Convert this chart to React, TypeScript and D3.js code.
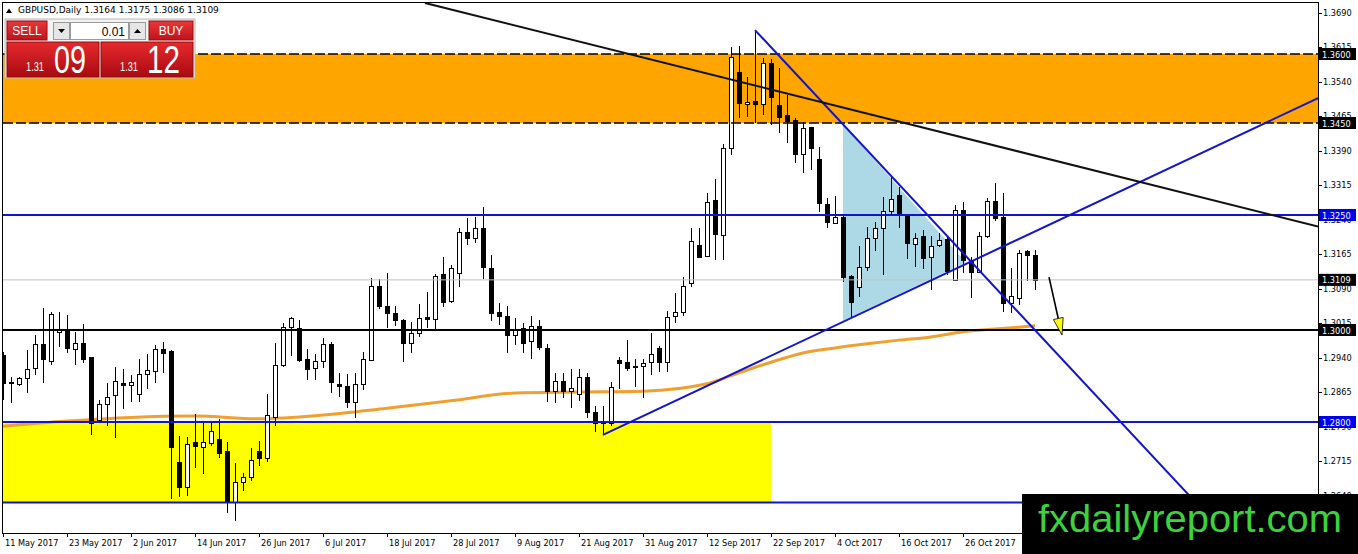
import * as d3 from 'd3';
import { FC } from 'react';

// GBPUSD daily, 11 May 2017 .. 8 Nov 2017 (bar index 0..129)
const opens = [
  1.2945, 1.2885, 1.2883, 1.2896, 1.2918, 1.2969, 1.2932, 1.2995, 1.3000, 1.2958,
  1.2971, 1.2941, 1.2804, 1.2839, 1.2858, 1.2885, 1.2880, 1.2861, 1.2904, 1.2911,
  1.2958, 1.2954, 1.2713, 1.2659, 1.2756, 1.2746, 1.2754, 1.2763, 1.2737, 1.2626,
  1.2669, 1.2680, 1.2737, 1.2721, 1.2810, 1.2923, 1.3006, 1.3004, 1.2938, 1.2918,
  1.2932, 1.2969, 1.2883, 1.2878, 1.2843, 1.2883, 1.2934, 1.3096, 1.3052, 1.3037,
  1.3022, 1.2971, 1.2993, 1.3028, 1.3024, 1.3121, 1.3063, 1.3124, 1.3212, 1.3201,
  1.3221, 1.3135, 1.3039, 1.3030, 1.2989, 1.3004, 1.2976, 1.3009, 1.2960, 1.2867,
  1.2889, 1.2867, 1.2861, 1.2898, 1.2821, 1.2800, 1.2798, 1.2934, 1.2930, 1.2921,
  1.2921, 1.2930, 1.2960, 1.2930, 1.3030, 1.3039, 1.3102, 1.3185, 1.3161, 1.3283,
  1.3206, 1.3395, 1.3561, 1.3492, 1.3498, 1.3492, 1.3581, 1.3490, 1.3468, 1.3457,
  1.3382, 1.3441, 1.3371, 1.3274, 1.3232, 1.3245, 1.3117, 1.3093, 1.3137, 1.3201,
  1.3221, 1.3258, 1.3293, 1.3247, 1.3187, 1.3204, 1.3159, 1.3185, 1.3198, 1.3108,
  1.3261, 1.3152, 1.3126, 1.3204, 1.3280, 1.3245, 1.3059, 1.3069, 1.3171, 1.3164,
];
const highs = [
  1.2952, 1.2898, 1.2898, 1.2956, 1.2989, 1.3048, 1.3039, 1.3039, 1.3033, 1.2995,
  1.3013, 1.2941, 1.2848, 1.2885, 1.2919, 1.2915, 1.2902, 1.2938, 1.2947, 1.2967,
  1.2974, 1.2956, 1.2770, 1.2767, 1.2817, 1.2798, 1.2803, 1.2806, 1.2757, 1.2711,
  1.2689, 1.2743, 1.2759, 1.2861, 1.2971, 1.3015, 1.3028, 1.3022, 1.2958, 1.2947,
  1.2982, 1.2974, 1.2907, 1.2904, 1.2907, 1.2952, 1.3113, 1.3111, 1.3124, 1.3052,
  1.3024, 1.3017, 1.3057, 1.3083, 1.3121, 1.3159, 1.3141, 1.3221, 1.3243, 1.3245,
  1.3267, 1.3163, 1.3059, 1.3052, 1.3026, 1.3015, 1.3030, 1.3022, 1.2969, 1.2907,
  1.2907, 1.2915, 1.2915, 1.2907, 1.2834, 1.2834, 1.2887, 1.2941, 1.2978, 1.2938,
  1.2938, 1.2993, 1.2965, 1.3041, 1.3081, 1.3115, 1.3221, 1.3221, 1.3298, 1.3329,
  1.3404, 1.3616, 1.3618, 1.3550, 1.3652, 1.3591, 1.3589, 1.3570, 1.3511, 1.3461,
  1.3452, 1.3441, 1.3398, 1.3287, 1.3291, 1.3250, 1.3119, 1.3183, 1.3223, 1.3234,
  1.3289, 1.3333, 1.3311, 1.3247, 1.3211, 1.3217, 1.3204, 1.3210, 1.3204, 1.3272,
  1.3278, 1.3159, 1.3212, 1.3287, 1.3320, 1.3298, 1.3135, 1.3174, 1.3175, 1.3175,
];
const lows = [
  1.2848, 1.2841, 1.2878, 1.2863, 1.2902, 1.2885, 1.2923, 1.2963, 1.2949, 1.2925,
  1.2928, 1.2772, 1.2800, 1.2792, 1.2765, 1.2828, 1.2843, 1.2843, 1.2872, 1.2885,
  1.2907, 1.2633, 1.2637, 1.2639, 1.2700, 1.2686, 1.2748, 1.2721, 1.2602, 1.2585,
  1.2650, 1.2671, 1.2704, 1.2713, 1.2792, 1.2919, 1.2943, 1.2930, 1.2891, 1.2891,
  1.2918, 1.2863, 1.2854, 1.2830, 1.2808, 1.2869, 1.2932, 1.3046, 1.3004, 1.3009,
  1.2930, 1.2949, 1.2984, 1.3004, 1.3002, 1.3050, 1.3059, 1.3093, 1.3185, 1.3189,
  1.3110, 1.3020, 1.3011, 1.2949, 1.2967, 1.2949, 1.2938, 1.2956, 1.2843, 1.2841,
  1.2852, 1.2830, 1.2845, 1.2808, 1.2778, 1.2772, 1.2792, 1.2872, 1.2910, 1.2876,
  1.2852, 1.2903, 1.2908, 1.2908, 1.3015, 1.3030, 1.3093, 1.3157, 1.3161, 1.3152,
  1.3152, 1.3380, 1.3461, 1.3463, 1.3450, 1.3468, 1.3446, 1.3428, 1.3406, 1.3363,
  1.3341, 1.3347, 1.3256, 1.3221, 1.3232, 1.3104, 1.3028, 1.3072, 1.3128, 1.3172,
  1.3119, 1.3247, 1.3221, 1.3154, 1.3137, 1.3132, 1.3086, 1.3181, 1.3119, 1.3106,
  1.3124, 1.3070, 1.3124, 1.3201, 1.3237, 1.3039, 1.3037, 1.3055, 1.3106, 1.3086,
];
const closes = [
  1.2885, 1.2887, 1.2896, 1.2915, 1.2969, 1.2938, 1.3035, 1.3000, 1.2960, 1.2971,
  1.2938, 1.2798, 1.2839, 1.2854, 1.2889, 1.2880, 1.2887, 1.2904, 1.2913, 1.2958,
  1.2949, 1.2746, 1.2659, 1.2752, 1.2748, 1.2757, 1.2781, 1.2732, 1.2626, 1.2669,
  1.2680, 1.2717, 1.2721, 1.2815, 1.2923, 1.3006, 1.3026, 1.2934, 1.2915, 1.2932,
  1.2969, 1.2887, 1.2878, 1.2843, 1.2883, 1.2936, 1.3096, 1.3052, 1.3037, 1.3022,
  1.2971, 1.2993, 1.3026, 1.3024, 1.3117, 1.3061, 1.3135, 1.3212, 1.3201, 1.3221,
  1.3137, 1.3037, 1.3030, 1.2989, 1.3000, 1.2971, 1.3009, 1.2963, 1.2867, 1.2889,
  1.2867, 1.2874, 1.2898, 1.2821, 1.2798, 1.2798, 1.2876, 1.2928, 1.2918, 1.2919,
  1.2928, 1.2947, 1.2930, 1.3028, 1.3039, 1.3096, 1.3194, 1.3159, 1.3278, 1.3208,
  1.3395, 1.3594, 1.3494, 1.3496, 1.3492, 1.3581, 1.3507, 1.3463, 1.3455, 1.3382,
  1.3439, 1.3395, 1.3276, 1.3234, 1.3245, 1.3115, 1.3061, 1.3137, 1.3200, 1.3221,
  1.3258, 1.3285, 1.3252, 1.3189, 1.3201, 1.3156, 1.3183, 1.3196, 1.3128, 1.3261,
  1.3152, 1.3126, 1.3204, 1.3280, 1.3243, 1.3059, 1.3073, 1.3167, 1.3164, 1.3109,
];

const dateBars = [0, 8, 16, 24, 32, 40, 48, 56, 64, 72, 80, 88, 96, 104, 112, 120];
const dateLabels = [
  '11 May 2017', '23 May 2017', '2 Jun 2017', '14 Jun 2017', '26 Jun 2017', '6 Jul 2017',
  '18 Jul 2017', '28 Jul 2017', '9 Aug 2017', '21 Aug 2017', '31 Aug 2017', '12 Sep 2017',
  '22 Sep 2017', '4 Oct 2017', '16 Oct 2017', '26 Oct 2017',
];

const priceTicks = [
  1.369, 1.3615, 1.354, 1.3465, 1.339, 1.3315, 1.324, 1.3165, 1.309, 1.3015,
  1.294, 1.2865, 1.279, 1.2715, 1.264,
];

// moving average read at a few bars
const maBars = [0, 8, 16, 24, 32, 40, 48, 56, 64, 72, 80, 88, 92, 96, 100, 104, 108, 112, 116, 120, 124, 129];
const maValues = [
  1.2791, 1.2802, 1.281, 1.2813, 1.2807, 1.2815, 1.283, 1.2846, 1.2863, 1.2865, 1.2867,
  1.2883, 1.2907, 1.293, 1.295, 1.2961, 1.297, 1.2978, 1.2985, 1.2996, 1.3002, 1.3009,
];

const resistanceZone = [1.345, 1.36];
const supportZone = [1.2625, 1.28];
const supportZoneEndBar = 96;
const blueLevels = [1.325, 1.28, 1.2625];
const pivotLevel = 1.3;
const bidPrice = 1.3109;
const blackTrend = [[52.75, 1.3711], [164.375, 1.3225]];
const blueDown = [[94, 1.3652], [155, 1.2515]];
const blueUp = [[75, 1.2772], [164.375, 1.3504]];
const triangle = [[105, 1.3446], [105, 1.302], [120.375, 1.3147]];
const arrow = [[130.75, 1.3115], [132.375, 1.2989]];
const axisMarks = [
  { price: 1.36, kind: 'black' },
  { price: 1.345, kind: 'black' },
  { price: 1.325, kind: 'blue' },
  { price: 1.3109, kind: 'black' },
  { price: 1.3, kind: 'black' },
  { price: 1.28, kind: 'blue' },
];

const W = 1358;
const H = 554;
const left = 3;
const right = 1318;
const top = 2;
const bottom = 533;
const font = "'DejaVu Sans', Tahoma, sans-serif";
const BLUE = '#1414c8';

const x = d3.scaleLinear().domain([0, 129]).range([3, 1035]);
const y = d3.scaleLinear().domain([1.28, 1.36]).range([422, 54]);
const fmt = d3.format('.4f');

const pts = (arr: number[][]) => arr.map(([b, p]) => [x(b), y(p)] as [number, number]);

const Panel: FC = () => (
  <g fontFamily="'Liberation Sans', Arial, sans-serif">
    <defs>
      <linearGradient id="redBtn" x1="0" y1="0" x2="0" y2="1">
        <stop offset="0" stopColor="#e8383c" />
        <stop offset="1" stopColor="#c0121a" />
      </linearGradient>
      <linearGradient id="redBig" x1="0" y1="0" x2="0" y2="1">
        <stop offset="0" stopColor="#e62a2e" />
        <stop offset="1" stopColor="#a80a10" />
      </linearGradient>
    </defs>
    <rect x={5} y={19} width={190} height={59} fill="#f2f2f2" stroke="#b8b8b8" />
    <rect x={7} y={21} width={40} height={19} fill="url(#redBtn)" stroke="#9a0c10" />
    <text x={27} y={35} fill="#fff" fontSize={12} textAnchor="middle">SELL</text>
    <rect x={53.5} y={22.5} width={16} height={17} fill="#e6e6e6" stroke="#9a9a9a" />
    <path d="M58,29 L65,29 L61.5,33 Z" fill="#000" />
    <rect x={70.5} y={22.5} width={58} height={17} fill="#fff" stroke="#9a9a9a" />
    <text x={125} y={36} fontSize={12} textAnchor="end" fill="#000">0.01</text>
    <rect x={129.5} y={22.5} width={16} height={17} fill="#e6e6e6" stroke="#9a9a9a" />
    <path d="M134,33 L141,33 L137.5,29 Z" fill="#000" />
    <rect x={149} y={21} width={44} height={19} fill="url(#redBtn)" stroke="#9a0c10" />
    <text x={171} y={35} fill="#fff" fontSize={12} textAnchor="middle">BUY</text>
    <line x1={7} x2={193} y1={41.5} y2={41.5} stroke="#fff" />
    <rect x={7} y={42} width={92} height={35} fill="url(#redBig)" stroke="#8c0a0e" />
    <rect x={101} y={42} width={92} height={35} fill="url(#redBig)" stroke="#8c0a0e" />
    <text x={26} y={71} fill="#fff" fontSize={13} textLength={18} lengthAdjust="spacingAndGlyphs">1.31</text>
    <text x={54} y={73} fill="#fff" fontSize={39} textLength={32} lengthAdjust="spacingAndGlyphs">09</text>
    <text x={120} y={71} fill="#fff" fontSize={13} textLength={18} lengthAdjust="spacingAndGlyphs">1.31</text>
    <text x={147} y={73} fill="#fff" fontSize={39} textLength={33} lengthAdjust="spacingAndGlyphs">12</text>
  </g>
);

const App: FC = () => {
  const ma = d3
    .line<number>()
    .x((_, i) => x(maBars[i]))
    .y((d) => y(d))
    .curve(d3.curveMonotoneX)(maValues) as string;

  const [tip0, tip1] = pts(arrow);
  const dx = tip1[0] - tip0[0];
  const dy = tip1[1] - tip0[1];
  const len = Math.hypot(dx, dy);
  const ux = dx / len;
  const uy = dy / len;
  const bx = tip1[0] - 17 * ux;
  const by = tip1[1] - 17 * uy;
  const head = `M${tip1[0]},${tip1[1]} L${bx - 5 * uy},${by + 5 * ux} L${bx + 5 * uy},${by - 5 * ux} Z`;

  const seg = (arr: number[][]) => {
    const [a, b] = pts(arr);
    return <line x1={a[0]} y1={a[1]} x2={b[0]} y2={b[1]} />;
  };

  return (
    <svg
      width={W}
      height={H}
      style={{ position: 'absolute', left: 0, top: 0, background: '#fff' }}
    >
      <defs>
        <clipPath id="plot">
          <rect x={left} y={top} width={right - left} height={bottom - top} />
        </clipPath>
      </defs>

      <g clipPath="url(#plot)">
        {/* zones */}
        <rect
          x={left}
          width={right - left}
          y={y(resistanceZone[1])}
          height={y(resistanceZone[0]) - y(resistanceZone[1])}
          fill="#ffa500"
        />
        <rect
          x={left}
          width={x(supportZoneEndBar) - left}
          y={y(supportZone[1])}
          height={y(supportZone[0]) - y(supportZone[1])}
          fill="#ffff00"
        />
        <polygon points={pts(triangle).map((p) => p.join(',')).join(' ')} fill="#add8e6" />

        <path d={ma} fill="none" stroke="#f0a030" strokeWidth={3} />

        {/* candles */}
        <g shapeRendering="crispEdges">
          {opens.map((o, i) => {
            const cx = x(i);
            const c = closes[i];
            const bull = c >= o;
            const yt = Math.round(y(Math.max(o, c)));
            const yb = Math.round(y(Math.min(o, c)));
            return (
              <g key={i}>
                <line x1={cx + 0.5} x2={cx + 0.5} y1={y(highs[i])} y2={y(lows[i])} stroke="#000" />
                <rect
                  x={cx - 1.5}
                  y={yt + 0.5}
                  width={4}
                  height={Math.max(yb - yt, 1)}
                  fill={bull ? '#fff' : '#000'}
                  stroke="#000"
                />
              </g>
            );
          })}
        </g>

        {/* levels */}
        <line x1={left} x2={right} y1={y(bidPrice)} y2={y(bidPrice)} stroke="#c0c0c0" />
        {resistanceZone.map((p) => (
          <line key={p} x1={left} x2={right} y1={y(p)} y2={y(p)} stroke="#000" strokeWidth={1.5} strokeDasharray="10,3" />
        ))}
        {blueLevels.map((p) => (
          <line key={p} x1={left} x2={right} y1={y(p)} y2={y(p)} stroke={BLUE} strokeWidth={2} />
        ))}
        <line x1={left} x2={right} y1={y(pivotLevel)} y2={y(pivotLevel)} stroke="#000" strokeWidth={2} />

        {/* trend lines */}
        <g stroke={BLUE} strokeWidth={2}>
          {seg(blueDown)}
          {seg(blueUp)}
        </g>
        <g stroke="#111" strokeWidth={2}>{seg(blackTrend)}</g>

        <line x1={tip0[0]} y1={tip0[1]} x2={bx} y2={by} stroke="#000" strokeWidth={1.6} />
        <path d={head} fill="#ffff00" stroke="#000" strokeWidth={0.8} />
      </g>

      {/* frame */}
      <rect x={2.5} y={2.5} width={right - 2.5} height={bottom - 2} fill="none" stroke="#000" shapeRendering="crispEdges" />
      <line x1={right + 0.5} x2={right + 0.5} y1={2} y2={bottom} stroke="#000" shapeRendering="crispEdges" />

      {/* price axis */}
      <g fontFamily={font} fontSize={8.2} fill="#000">
        {priceTicks.map((p) => (
          <g key={p}>
            <line x1={right} x2={right + 4} y1={Math.round(y(p)) + 0.5} y2={Math.round(y(p)) + 0.5} stroke="#000" />
            <text x={1323} y={y(p) + 3}>{fmt(p)}</text>
          </g>
        ))}
        {axisMarks.map((m) => (
          <g key={m.price}>
            <rect x={1319} y={y(m.price) - 6} width={37} height={12} fill={m.kind === 'blue' ? '#0000f0' : '#000'} />
            <text x={1322} y={y(m.price) + 3.5} fill="#fff">{fmt(m.price)}</text>
          </g>
        ))}
      </g>

      {/* time axis */}
      <g fontFamily={font} fontSize={8.2} fill="#000">
        {dateBars.map((b, i) => (
          <g key={b}>
            <line x1={x(b) + 0.5} x2={x(b) + 0.5} y1={bottom} y2={bottom + 4} stroke="#000" />
            <text x={x(b) + 2} y={546}>{dateLabels[i]}</text>
          </g>
        ))}
      </g>

      {/* header */}
      <path d="M6,13 L12,13 L9,8.5 Z" fill="#000" />
      <text x={18} y={13} fontFamily={font} fontSize={9} fill="#000">
        GBPUSD,Daily  1.3164 1.3175 1.3086 1.3109
      </text>

      <Panel />

      {/* watermark */}
      <rect x={1022} y={494} width={W - 1022} height={H - 494} fill="#000" />
      <text
        x={1038}
        y={532}
        fontFamily="'Liberation Sans', Arial, sans-serif"
        fontSize={38}
        fill="#3cd23c"
        textLength={304}
        lengthAdjust="spacingAndGlyphs"
      >
        fxdailyreport.com
      </text>
    </svg>
  );
};

export default App;
